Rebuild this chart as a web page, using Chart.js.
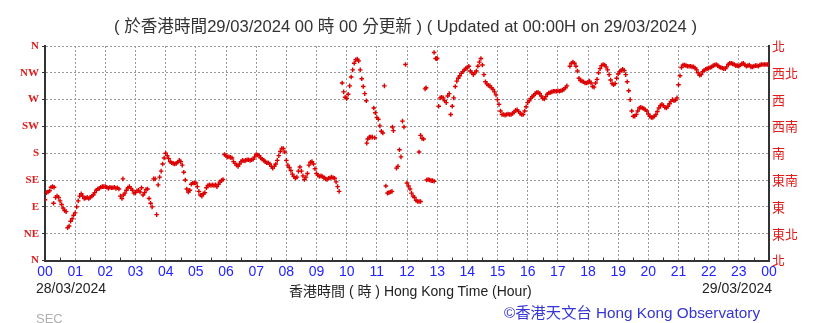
<!DOCTYPE html>
<html>
<head>
<meta charset="utf-8">
<script src="https://cdn.jsdelivr.net/npm/chart.js@4.4.1/dist/chart.umd.min.js"></script>
<style>
  body { margin: 0; background: #fff; }
  #wrap { position: relative; width: 819px; height: 323px; overflow: hidden;
          font-family: "Liberation Sans", "Noto Sans CJK TC", sans-serif; }
  #wrap canvas { position: absolute; left: 0; top: 0; }
  .t { position: absolute; white-space: nowrap; color: #333; }
</style>
</head>
<body>
<div id="wrap">
  <canvas id="windChart" width="819" height="323"></canvas>
  <div class="t" id="title" style="left:-4px;width:819px;text-align:center;top:13px;font-size:16.6px;">( 於香港時間29/03/2024 00 時 00 分更新 ) ( Updated at 00:00H on 29/03/2024 )</div>
  <div class="t" style="left:36px;top:280px;font-size:14px;color:#222;">28/03/2024</div>
  <div class="t" style="left:289px;top:280px;font-size:14px;color:#222;">香港時間 ( 時 ) Hong Kong Time (Hour)</div>
  <div class="t" style="right:47px;top:280px;font-size:14px;color:#222;">29/03/2024</div>
  <div class="t" style="left:504px;top:300px;font-size:15.3px;color:#3535d5;">©香港天文台 Hong Kong Observatory</div>
  <div class="t" style="left:36px;top:311px;font-size:13px;color:#b0b0b0;">SEC</div>
</div>
<script>
// tick labels
const hourLabels = ['00','01','02','03','04','05','06','07','08','09','10','11',
                    '12','13','14','15','16','17','18','19','20','21','22','23','00'];
const dirLabelsEn = ['N','NE','E','SE','S','SW','W','NW','N'];
const dirLabelsZh = ['北','東北','東','東南','南','西南','西','西北','北'];

// wind direction (degrees), one value every 3 minutes (:00, :03 ... :57), null = no data
const h00 = [102,114,115,117,123,124,123,106,108,106,100,94,88,84,82,55,58,66,70,76];
const h01 = [80,90,100,108,112,108,104,105,106,104,106,108,110,114,118,120,121,123,124,124];
const h02 = [124,123,121,123,122,122,123,121,122,120,108,104,110,113,118,122,124,121,118,113];
const h03 = [114,117,118,115,122,110,114,119,120,104,96,90,137,137,77,127,140,150,162,172];
const h04 = [180,176,171,166,164,163,162,163,165,168,166,160,148,135,120,115,118,128,130,130];
const h05 = [130,124,116,110,108,112,114,122,126,127,126,127,126,127,124,128,132,134,136,178];
const h06 = [176,174,174,173,172,166,163,160,158,162,166,168,167,168,169,169,168,169,170,174];
const h07 = [178,177,176,172,170,168,166,164,164,162,158,155,158,162,168,176,183,188,188,182];
const h08 = [168,160,156,151,145,141,138,140,150,157,150,142,136,140,146,160,165,166,162,154];
const h09 = [146,143,141,142,141,139,137,136,138,139,140,139,138,132,124,116,null,298,283,274];
const h10 = [272,279,293,308,320,331,337,338,335,320,305,292,280,268,204,207,207,207,256,248];
const h11 = [240,237,226,217,214,293,125,113,114,115,116,218,null,155,158,186,174,234,224,329];
const h12 = [130,125,120,113,108,106,101,99,182,210,205,204,288,135,136,135,134,134,349,339];
const h13 = [339,259,273,274,273,268,265,276,280,245,259,273,292,301,306,310,314,317,320,322];
const h14 = [324,326,318,315,312,315,318,326,333,339,328,312,300,296,294,293,290,287,283,278];
const h15 = [270,262,251,245,245,244,245,246,245,245,247,249,252,253,250,247,245,245,251,258];
const h16 = [265,268,272,275,277,280,282,282,280,276,272,271,275,279,281,282,283,284,284,284];
const h17 = [285,284,285,286,287,290,293,null,326,331,333,331,326,318,306,302,301,300,298,298];
const h18 = [299,301,298,292,291,298,304,315,322,327,329,328,325,320,312,303,297,295,297,306];
const h19 = [313,317,319,321,319,312,300,285,270,251,242,242,245,251,256,257,256,255,253,251];
const h20 = [246,242,240,240,242,245,250,256,260,262,260,257,256,259,263,267,270,268,269,273];
const h21 = [295,310,324,328,328,327,326,326,326,325,325,323,320,315,311,312,317,319,321,322];
const h22 = [323,324,325,327,328,329,327,325,324,323,322,322,325,329,331,331,330,329,327,327];
const h23 = [326,328,330,331,328,326,327,328,325,325,326,327,327,326,328,329,329,329,329,329];

// readings that fall between the 3-minute slots
const extraTimes = ['00:17','02:35','10:40','10:56','11:31','12:24','12:27','12:38','12:54','12:59','24:00'];
const extraDirs  = [96, 137, 197, 206, 224, 99, 99, 290, 133, 339, 329];

const byHour = [h00,h01,h02,h03,h04,h05,h06,h07,h08,h09,h10,h11,
                h12,h13,h14,h15,h16,h17,h18,h19,h20,h21,h22,h23];
const points = [];
byHour.forEach((arr, h) => {
  arr.forEach((d, i) => {
    if (d !== null) points.push({ x: h + i * 3 / 60, y: d });
  });
});
extraTimes.forEach((t, i) => {
  const [hh, mm] = t.split(':').map(Number);
  points.push({ x: hh + mm / 60, y: extraDirs[i] });
});

// little half-hour marks sitting on the time axis
const halfHourTicks = {
  id: 'halfHourTicks',
  afterDraw(chart) {
    const { ctx, scales: { x }, chartArea } = chart;
    ctx.save();
    ctx.strokeStyle = '#333';
    ctx.lineWidth = 1;
    for (let h = 0.5; h < 24; h++) {
      const px = Math.round(x.getPixelForValue(h)) + 0.5;
      ctx.beginPath();
      ctx.moveTo(px, chartArea.bottom);
      ctx.lineTo(px, chartArea.bottom - 3);
      ctx.stroke();
    }
    ctx.restore();
  }
};

const red = '#e01c1c';

new Chart(document.getElementById('windChart'), {
  type: 'scatter',
  data: {
    datasets: [{
      data: points,
      pointStyle: 'cross',
      pointRadius: 2.3,
      pointBorderWidth: 1.4,
      borderColor: '#dd0000',
      backgroundColor: '#dd0000'
    }]
  },
  options: {
    responsive: false,
    animation: false,
    layout: { padding: { top: 46, left: 0, right: 0, bottom: 0 } },
    plugins: { legend: { display: false }, tooltip: { enabled: false } },
    scales: {
      x: {
        type: 'linear', min: 0, max: 24, position: 'bottom',
        afterFit: s => { s.height = 62.5; },
        ticks: {
          stepSize: 1, autoSkip: false, maxRotation: 0, padding: 3,
          color: '#2323ff',
          font: { family: 'Liberation Sans', size: 14 },
          callback: v => hourLabels[Math.round(v)]
        },
        grid: { color: '#9a9a9a', drawTicks: false },
        border: { color: '#333', width: 2, dash: [2, 2] }
      },
      y: {
        min: 0, max: 360, position: 'left',
        afterFit: s => { s.width = 45; },
        ticks: {
          stepSize: 45, padding: 3, color: red,
          font: { family: 'Liberation Serif', size: 11, weight: 'bold' },
          callback: v => dirLabelsEn[Math.round(v / 45)]
        },
        grid: { color: '#9a9a9a', tickLength: 3, tickColor: '#333' },
        border: { color: '#333', width: 2, dash: [2, 2] }
      },
      y2: {
        min: 0, max: 360, position: 'right',
        afterFit: s => { s.width = 50; },
        ticks: {
          stepSize: 45, padding: 3, color: red,
          font: { family: 'Noto Sans CJK TC', size: 13 },
          callback: v => dirLabelsZh[Math.round(v / 45)]
        },
        grid: { drawOnChartArea: false, drawTicks: false },
        border: { color: '#333', width: 2 }
      }
    }
  },
  plugins: [halfHourTicks]
});
</script>
</body>
</html>
